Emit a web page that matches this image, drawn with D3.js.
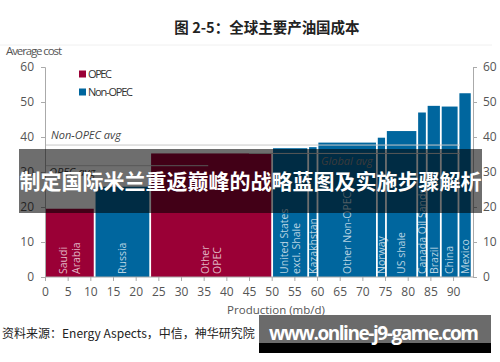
<!DOCTYPE html>
<html>
<head>
<meta charset="utf-8">
<script src="https://cdn.jsdelivr.net/npm/d3@7"></script>
<style>
  body { margin: 0; background: #fff; }
  svg { display: block; font-family: "Open Sans", "Noto Sans", sans-serif; }
</style>
</head>
<body>
<div id="chart"></div>
<script>
// chart data
var countries = ["Saudi Arabia", "Russia", "Other OPEC", "United States excl. Shale", "Kazakhstan",
  "Other Non-OPEC", "Norway", "US shale", "Canada Oil Sands", "Brazil", "China", "Mexico"];
var labelLines = [["Saudi", "Arabia"], ["Russia"], ["Other", "OPEC"], ["United States", "excl. Shale"],
  ["Kazakhstan"], ["Other Non-OPEC"], ["Norway"], ["US  shale"], ["Canada Oil Sands"], ["Brazil"], ["China"], ["Mexico"]];
var production = [10.95, 12.25, 26.9, 7.95, 2.05, 13.1, 2.0, 6.9, 2.1, 3.1, 3.9, 2.9];
var cost = [19.5, 25.8, 35.3, 36.8, 37.1, 38.4, 39.8, 41.7, 47.0, 48.9, 48.7, 52.5];
var group = ["OPEC", "Non-OPEC", "OPEC", "Non-OPEC", "Non-OPEC", "Non-OPEC",
  "Non-OPEC", "Non-OPEC", "Non-OPEC", "Non-OPEC", "Non-OPEC", "Non-OPEC"];
var legendKeys = ["OPEC", "Non-OPEC"];
var avgNames = ["Non-OPEC avg", "OPEC avg", "Global avg"];
var avgValues = [37.7, 31.8, 35.3];
var avgSpan = [[0, 91.5], [0, 36], [45, 91.5]];
var xTicks = d3.range(0, 95, 5);
var yTicks = d3.range(0, 70, 10);

var width = 500, height = 362;
var color = d3.scaleOrdinal().domain(legendKeys).range(["#9a0036", "#00669e"]);

var svg = d3.select("#chart").append("svg")
  .attr("width", width)
  .attr("height", height);

var x = d3.scaleLinear().domain([0, 94.4]).range([45, 473]);
var y = d3.scaleLinear().domain([0, 60]).range([277, 67]);

// title
svg.append("text")
  .attr("x", 267).attr("y", 33)
  .attr("text-anchor", "middle")
  .style("font-family", "'Noto Sans CJK SC', sans-serif")
  .style("font-weight", 700)
  .style("font-size", "14.5px")
  .attr("fill", "#222")
  .text("图 2-5：全球主要产油国成本");

// faint top rule
svg.append("line")
  .attr("x1", 0).attr("x2", 492).attr("y1", 45).attr("y2", 45)
  .attr("stroke", "#f0f0f0");

svg.append("text")
  .attr("x", 6).attr("y", 55)
  .style("font-size", "11.5px")
  .attr("fill", "#555")
  .attr("textLength", 56)
  .text("Average cost");

// bars
var ends = d3.cumsum(production);
var bars = countries.map(function(c, i) {
  return { name: c, lines: labelLines[i], start: ends[i] - production[i], end: ends[i], cost: cost[i], group: group[i] };
});

svg.selectAll("rect.bar")
  .data(bars)
  .enter().append("rect")
  .attr("class", "bar")
  .attr("x", function(d) { return x(d.start) + 0.9; })
  .attr("y", function(d) { return y(d.cost); })
  .attr("width", function(d) { return x(d.end) - x(d.start) - 1.8; })
  .attr("height", function(d) { return y(0) - y(d.cost); })
  .attr("fill", function(d) { return color(d.group); });

// bar labels, written upward from the base
bars.forEach(function(d) {
  var cx = (x(d.start) + x(d.end)) / 2;
  var n = d.lines.length;
  d.lines.forEach(function(line, k) {
    var off = (k - (n - 1) / 2) * 12.6;
    svg.append("text")
      .attr("transform", "translate(" + (cx + off) + ",274) rotate(-90)")
      .attr("dy", "0.36em")
      .style("font-size", "10.5px")
      .attr("fill", "#fff")
      .attr("fill-opacity", 0.72)
      .text(line);
  });
});

// average lines
avgValues.forEach(function(v, i) {
  svg.append("line")
    .attr("x1", x(avgSpan[i][0])).attr("x2", x(avgSpan[i][1]))
    .attr("y1", y(v)).attr("y2", y(v))
    .attr("stroke", "#c8c8c8").attr("stroke-width", 1);
});
svg.append("text").attr("x", 51).attr("y", 139)
  .style("font-size", "11px").style("font-style", "italic").attr("fill", "#444").text(avgNames[0]);
svg.append("text").attr("x", 49).attr("y", 176)
  .style("font-size", "11px").style("font-style", "italic").attr("fill", "#444").text(avgNames[1]);
svg.append("text").attr("x", 321).attr("y", 165)
  .style("font-size", "11px").style("font-style", "italic").attr("fill", "#888").text(avgNames[2]);

// axes
var bottomAxis = d3.axisBottom(x).tickValues(xTicks).tickSize(4).tickPadding(6);
var leftAxis = d3.axisLeft(y).tickValues(yTicks).tickSize(4).tickPadding(7);
var rightAxis = d3.axisRight(y).tickValues(yTicks).tickSize(4).tickPadding(6);

function styleAxis(g) {
  g.select(".domain").attr("stroke", "#aaa");
  g.selectAll(".tick line").attr("stroke", "#aaa");
  g.selectAll(".tick text").attr("fill", "#555").style("font-size", "12px")
    .style("font-family", "'Open Sans', sans-serif");
}

svg.append("g").attr("transform", "translate(0,277)").call(bottomAxis).call(styleAxis)
  .call(function(g) { g.select(".domain").attr("d", "M45,0H473"); });
svg.append("g").attr("transform", "translate(45,0)").call(leftAxis).call(styleAxis);
svg.append("g").attr("transform", "translate(473,0)").call(rightAxis).call(styleAxis);

svg.append("text")
  .attr("x", 276).attr("y", 314)
  .attr("text-anchor", "middle")
  .style("font-size", "11.5px")
  .attr("fill", "#555")
  .text("Production (mb/d)");

// legend
var legend = svg.selectAll("g.legend")
  .data(legendKeys)
  .enter().append("g")
  .attr("class", "legend")
  .attr("transform", function(d, i) { return "translate(79," + (74 + i * 18) + ")"; });
legend.append("rect")
  .attr("x", 0).attr("y", -3.5).attr("width", 7).attr("height", 7)
  .attr("fill", function(d) { return color(d); });
legend.append("text")
  .attr("x", 9).attr("dy", "0.36em")
  .style("font-size", "11px")
  .attr("fill", "#333")
  .attr("textLength", function(d) { return d === "OPEC" ? 24 : 45; })
  .text(function(d) { return d; });

// source
svg.append("text")
  .attr("x", 2).attr("y", 338)
  .style("font-family", "'Noto Sans CJK SC', sans-serif")
  .style("font-size", "12px")
  .attr("fill", "#222")
  .text("资料来源：Energy Aspects，中信，神华研究院");

// overlay banner
svg.append("rect")
  .attr("x", 19).attr("y", 149).attr("width", 463).attr("height", 64)
  .attr("fill", "#000").attr("fill-opacity", 0.57);
svg.append("text")
  .attr("x", 250.5).attr("y", 189)
  .attr("text-anchor", "middle")
  .style("font-family", "'Noto Sans CJK SC', sans-serif")
  .style("font-weight", 700)
  .style("font-size", "21px")
  .attr("fill", "#fff")
  .attr("textLength", 462)
  .text("制定国际米兰重返巅峰的战略蓝图及实施步骤解析");

// watermark box
svg.append("rect")
  .attr("x", 259).attr("y", 315).attr("width", 232).attr("height", 28)
  .attr("fill", "#6b6b6b");
svg.append("rect")
  .attr("x", 259).attr("y", 343).attr("width", 232).attr("height", 10)
  .attr("fill", "#000");
svg.append("text")
  .attr("x", 374).attr("y", 340)
  .attr("text-anchor", "middle")
  .style("font-family", "'Open Sans', sans-serif")
  .style("font-weight", 700)
  .style("font-size", "19px")
  .attr("fill", "#fff")
  .attr("textLength", 210)
  .text("www.online-j9-game.com");
</script>
</body>
</html>
